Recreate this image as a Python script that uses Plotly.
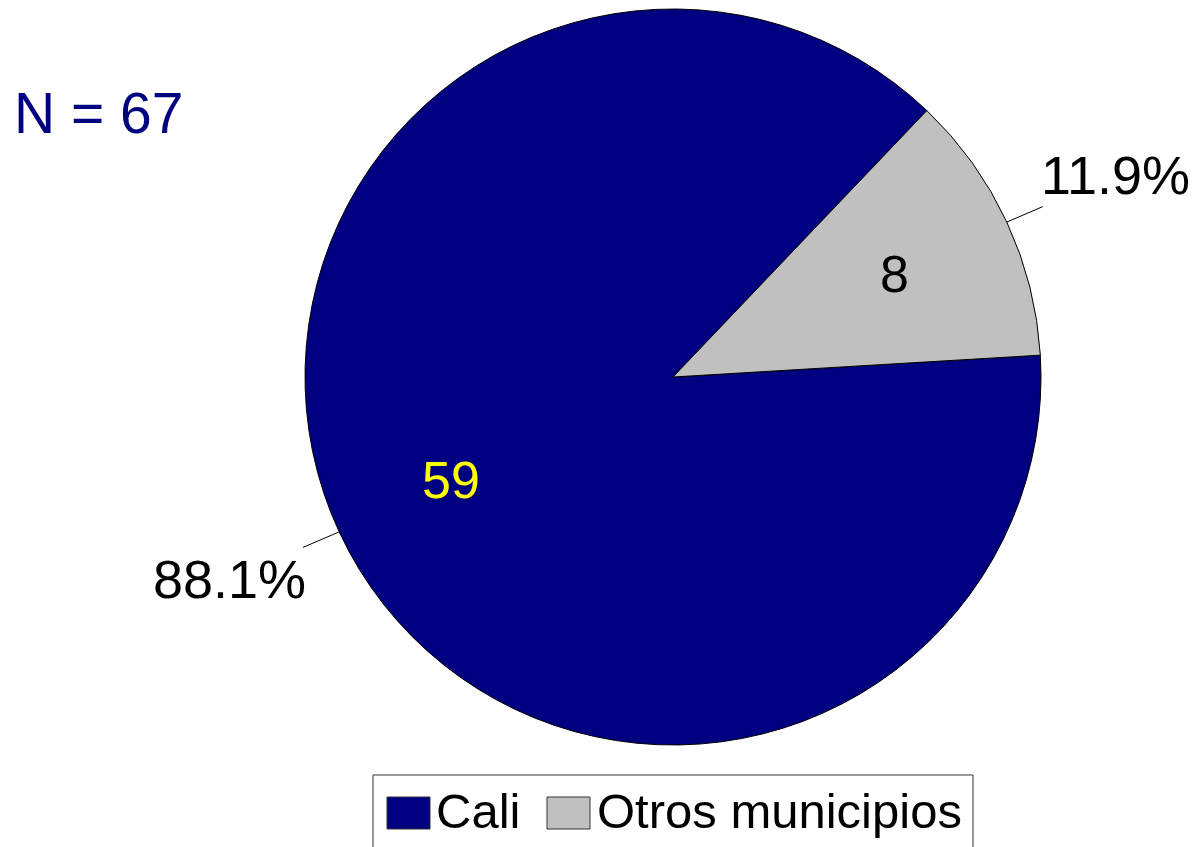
import math
import plotly.graph_objects as go

# datos
municipios = ["Cali", "Otros municipios"]
pacientes = [59, 8]
colores = ["#000080", "#C0C0C0"]
color_texto = ["#FFFF00", "#000000"]

W, H = 1200, 847
OFF = 8  # margen del body de la pagina
total = sum(pacientes)


def px_x(x):
    return (x - OFF) / W


def px_y(y):
    return 1 - (y - OFF) / H


# geometria del pastel (pixeles de la ventana)
cx, cy, r = 673, 377, 368
rotacion = 86.6

fig = go.Figure()

fig.add_trace(go.Pie(
    labels=municipios,
    values=pacientes,
    sort=False,
    direction="clockwise",
    rotation=rotacion,
    marker=dict(colors=colores, line=dict(color="black", width=1)),
    textinfo="none",
    domain=dict(x=[px_x(cx - r), px_x(cx + r)], y=[px_y(cy + r), px_y(cy - r)]),
    showlegend=False,
    hoverinfo="label+value+percent",
))

# valores adentro y porcentajes afuera con linea guia
desfase = [(-110, 47), (109, -47)]
angulo = rotacion
for i, v in enumerate(pacientes):
    medio = angulo + 360 * v / total / 2
    angulo += 360 * v / total
    a = math.radians(medio)
    sx, sy = math.sin(a), math.cos(a)
    fig.add_annotation(
        x=px_x(cx + 0.665 * r * sx), y=px_y(cy - 0.665 * r * sy),
        xref="paper", yref="paper", showarrow=False,
        xanchor="center", yanchor="middle",
        text=str(v),
        font=dict(size=52, color=color_texto[i], family="Liberation Sans"),
    )
    fig.add_annotation(
        x=px_x(cx + r * sx), y=px_y(cy - r * sy), xref="paper", yref="paper",
        text=f"{100 * v / total:.1f}%",
        showarrow=True, arrowhead=0, arrowwidth=1, arrowcolor="black",
        ax=desfase[i][0], ay=desfase[i][1],
        font=dict(size=54, color="black", family="Liberation Sans"),
    )

# N total
fig.add_annotation(
    x=px_x(12), y=px_y(113), xref="paper", yref="paper",
    xanchor="left", yanchor="middle", showarrow=False,
    text=f"N = {total}",
    font=dict(size=57, color="#000080", family="Liberation Sans"),
)

# leyenda
fig.add_shape(type="rect", xref="paper", yref="paper",
              x0=px_x(373), x1=px_x(973), y0=-0.05, y1=px_y(775),
              line=dict(color="#333333", width=1), fillcolor="white", layer="below")
sw_x = [387, 547]
tx_x = [434, 595]
for i, nombre in enumerate(municipios):
    fig.add_shape(type="rect", xref="paper", yref="paper",
                  x0=px_x(sw_x[i]), x1=px_x(sw_x[i] + 43),
                  y0=px_y(829), y1=px_y(797),
                  line=dict(color="#333333", width=1), fillcolor=colores[i])
    fig.add_annotation(
        x=px_x(tx_x[i]), y=px_y(811), xref="paper", yref="paper",
        xanchor="left", yanchor="middle", showarrow=False,
        text=nombre,
        font=dict(size=49, color="black", family="Liberation Sans"),
    )

fig.update_layout(
    width=W, height=H,
    margin=dict(l=0, r=0, t=0, b=0),
    paper_bgcolor="white",
    plot_bgcolor="white",
    showlegend=False,
)

fig.write_html("out.html")
